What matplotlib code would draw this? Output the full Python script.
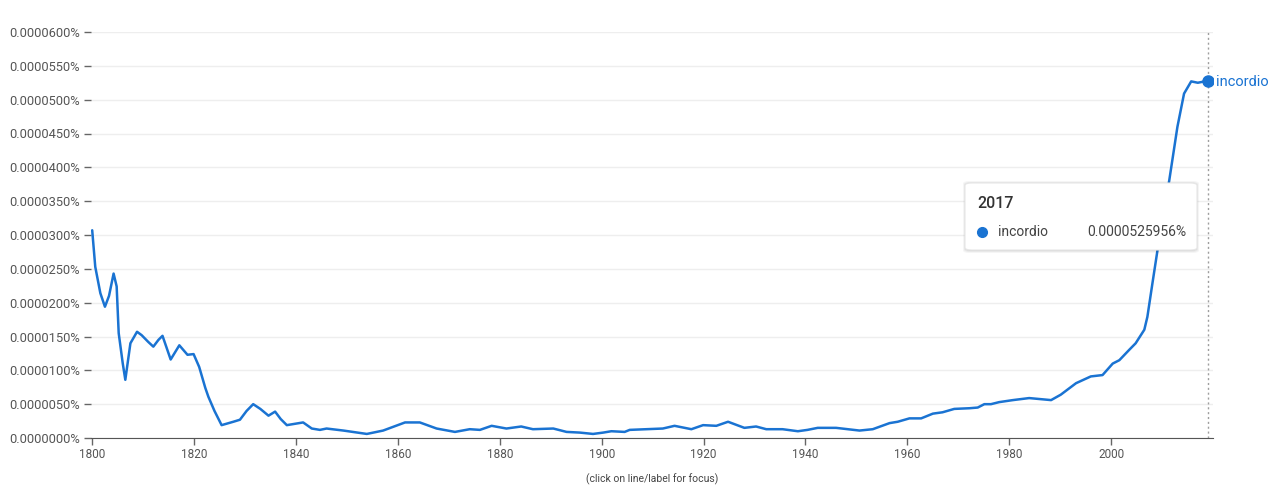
import matplotlib
matplotlib.use("Agg")
import matplotlib.pyplot as plt
from matplotlib.patches import FancyBboxPatch
from matplotlib.ticker import FuncFormatter

plt.rcParams['font.family'] = ['Roboto', 'DejaVu Sans']

# Data: frequency in units of 1e-6 percent (0.0000307% -> 30.7)
years = [1800, 1800.6, 1801.6, 1802.5, 1803.3, 1804.2, 1804.8, 1805.2, 1806.0, 1806.5,
         1807.5, 1808.8, 1809.7, 1811.0, 1812.0, 1813.0, 1813.8, 1815.4, 1817.1, 1818.7,
         1819.9, 1821.0, 1822.2, 1822.8, 1824.0, 1825.4, 1827.7, 1829.0, 1830.3, 1831.6,
         1833.0, 1834.6, 1835.9, 1837.0, 1838.2, 1841.4, 1843.1, 1844.7, 1846.0, 1849.3,
         1853.9, 1857.1, 1861.4, 1864.3, 1867.6, 1871.2, 1874.1, 1876.1, 1878.4, 1881.3,
         1884.2, 1886.5, 1890.5, 1893.1, 1895.7, 1898.3, 1900.3, 1901.9, 1904.5, 1905.5,
         1912.0, 1914.3, 1917.6, 1919.9, 1922.5, 1924.8, 1928.0, 1930.3, 1932.3, 1935.5,
         1938.5, 1940.4, 1942.4, 1946.0, 1950.6, 1953.2, 1956.5, 1958.1, 1960.4, 1962.7,
         1965.0, 1966.9, 1969.2, 1972.2, 1973.8, 1975.1, 1976.4, 1978.0, 1980.7, 1983.9,
         1988.2, 1990.1, 1993.1, 1996.0, 1998.3, 2000.3, 2001.6, 2003.5, 2004.8, 2006.5,
         2007.1, 2008.1, 2009.4, 2011.4, 2013.0, 2014.3, 2015.7, 2017.0, 2019.0]
freq_e6_pct = [30.7, 25.3, 21.4, 19.4, 21.0, 24.3, 22.4, 15.5, 11.0, 8.6,
               14.0, 15.7, 15.2, 14.2, 13.5, 14.5, 15.1, 11.6, 13.7, 12.3,
               12.4, 10.5, 7.4, 6.1, 4.0, 1.9, 2.4, 2.7, 4.0, 5.0,
               4.3, 3.3, 3.9, 2.8, 1.9, 2.3, 1.4, 1.2, 1.4, 1.1,
               0.6, 1.1, 2.3, 2.3, 1.4, 0.9, 1.3, 1.2, 1.8, 1.4,
               1.7, 1.3, 1.4, 0.9, 0.8, 0.6, 0.8, 1.0, 0.9, 1.2,
               1.4, 1.8, 1.3, 1.9, 1.8, 2.4, 1.5, 1.7, 1.3, 1.3,
               1.0, 1.2, 1.5, 1.5, 1.1, 1.3, 2.2, 2.4, 2.9, 2.9,
               3.6, 3.8, 4.3, 4.4, 4.5, 5.0, 5.0, 5.3, 5.6, 5.9,
               5.6, 6.4, 8.1, 9.1, 9.3, 11.0, 11.5, 13.0, 14.0, 16.0,
               17.9, 22.9, 29.3, 38.1, 46.0, 50.9, 52.7, 52.5, 52.8]
series_name = "incordio"
y_ticks = [0, 5, 10, 15, 20, 25, 30, 35, 40, 45, 50, 55, 60]
x_ticks = [1800, 1820, 1840, 1860, 1880, 1900, 1920, 1940, 1960, 1980, 2000]
tooltip_year = "2017"
tooltip_value = "0.0000525956%"

W, H = 1280, 504
fig = plt.figure(figsize=(W / 100, H / 100), dpi=100)
left_px, right_px = 91, 1213
ax = fig.add_axes([left_px / W, (H - 438) / H, (right_px - left_px) / W, (438 - 32) / H])

blue = "#1a73d2"
ax.plot(years, freq_e6_pct, color=blue, lw=1.8, solid_joinstyle='round',
        solid_capstyle='round', zorder=3)
ax.plot([years[-1]], [freq_e6_pct[-1]], 'o', color=blue, ms=8, zorder=4)
ax.axvline(years[-1], color="#9e9e9e", lw=1, ls=(0, (1.5, 2)), zorder=2)

ax.set_xlim(1800 - 1.2 / 5.1, 2019 + 5 / 5.1)
ax.set_ylim(0, 60)
ax.set_yticks(y_ticks)
ax.set_xticks(x_ticks)
ax.yaxis.set_major_formatter(FuncFormatter(lambda v, p: f"{v * 1e-6:.7f}%"))
ax.grid(axis='y', color="#eeeeee", lw=1, zorder=0)
for s in ['top', 'right', 'left']:
    ax.spines[s].set_visible(False)
ax.spines['bottom'].set_color("#555555")
ax.tick_params(axis='y', length=5, color="#666666", labelcolor="#555555",
               labelsize=9.3, pad=3, width=1)
ax.tick_params(axis='x', length=5, color="#666666", labelcolor="#555555",
               labelsize=8.5, pad=2, width=1)

# series label at end
ax.annotate(series_name, xy=(years[-1], freq_e6_pct[-1]), xytext=(6, -1),
            textcoords='offset points', color=blue, fontsize=10.5, va='center')

# tooltip
def fx(px):
    return px / W

def fy(py):
    return (H - py) / H

for d, a in [(3, 0.04), (2, 0.05), (1, 0.07)]:
    sh = FancyBboxPatch((fx(965 - d + 1), fy(250 + d)), fx(232 + 2 * d - 2), (67 + 2 * d - 1) / H,
                        boxstyle="round,pad=0,rounding_size=0.005",
                        transform=fig.transFigure, facecolor='black', edgecolor='none',
                        alpha=a, zorder=9)
    fig.patches.append(sh)
box = FancyBboxPatch((fx(965), fy(250)), fx(232), 67 / H,
                     boxstyle="round,pad=0,rounding_size=0.005",
                     transform=fig.transFigure, facecolor='white',
                     edgecolor="#e6e6e6", lw=0.8, zorder=10)
fig.patches.append(box)
fig.text(fx(977), fy(203), tooltip_year, fontsize=11.5, fontweight='medium',
         color="#333333", va='center', ha='left', zorder=11)
fig.text(fx(998), fy(232), series_name, fontsize=10, color="#444444",
         va='center', ha='left', zorder=11)
fig.text(fx(1186), fy(232), tooltip_value, fontsize=10, color="#444444",
         va='center', ha='right', zorder=11)
fig.lines.append(plt.Line2D([fx(982)], [fy(232)], marker='o', ms=7, color=blue,
                            transform=fig.transFigure, zorder=11))

fig.text(fx(652), fy(479), "(click on line/label for focus)", fontsize=7.5,
         color="#444444", ha='center', va='center')

fig.savefig("out.png", dpi=100)
